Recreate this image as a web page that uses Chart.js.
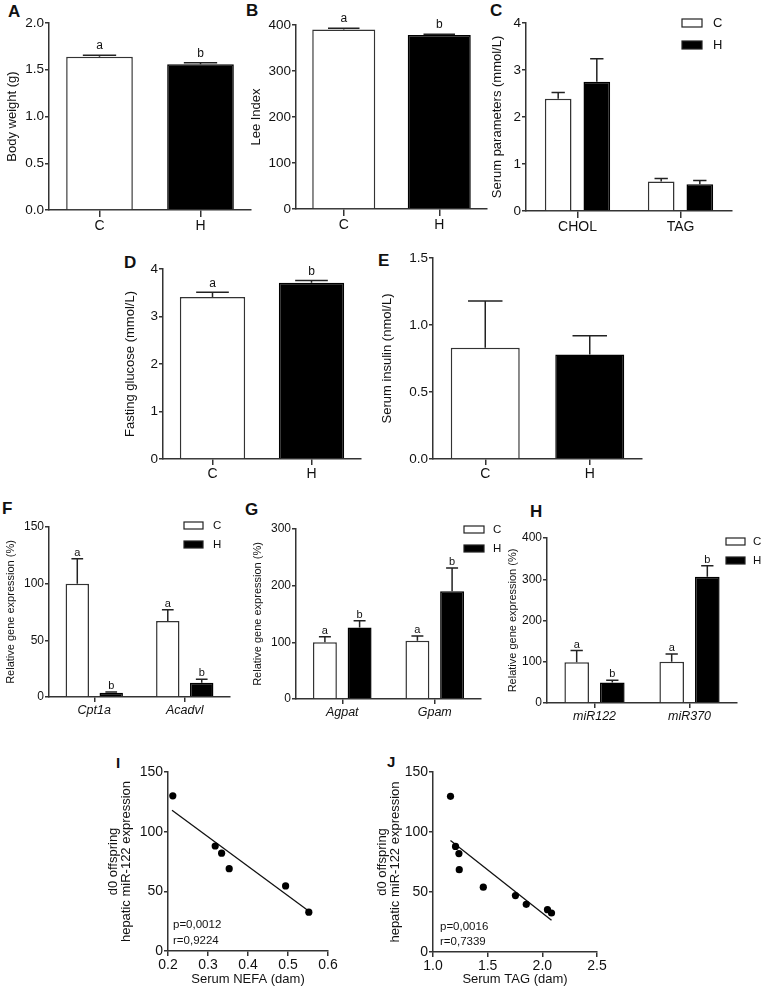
<!DOCTYPE html>
<html>
<head>
<meta charset="utf-8">
<script src="https://cdn.jsdelivr.net/npm/chart.js@4.4.1/dist/chart.umd.min.js"></script>
<style>
  body {
    margin: 0;
    width: 763px;
    height: 992px;
    position: relative;
    overflow: hidden;
    background: #fff;
    font-family: 'Liberation Sans', Arial, sans-serif;
  }
  canvas.panel { position: absolute; }
  .tag {
    position: absolute;
    font-weight: bold;
    font-size: 17px;
    line-height: 17px;
    color: #111;
  }
  .tag.small { font-size: 15px; line-height: 15px; }
</style>
</head>
<body>
<div class="tag" style="left:8px;top:3px">A</div>
<div class="tag" style="left:246px;top:2px">B</div>
<div class="tag" style="left:490px;top:2px">C</div>
<div class="tag" style="left:124px;top:254px">D</div>
<div class="tag" style="left:378px;top:252px">E</div>
<div class="tag" style="left:2px;top:500px">F</div>
<div class="tag" style="left:245px;top:501px">G</div>
<div class="tag" style="left:530px;top:503px">H</div>
<div class="tag small" style="left:116px;top:755px">I</div>
<div class="tag small" style="left:387px;top:754px">J</div>
<script>
// ---- data ----
const groups = ['C', 'H'];
const sigAB = ['a', 'b'];
const sigAA = ['a', 'a'];
const sigBB = ['b', 'b'];

// A
const bodyWeight = [1.64, 1.56];
const bodyWeightErr = [1.655, 1.575];
const yTicksA = ['0.0', '0.5', '1.0', '1.5', '2.0'];
// B
const leeIndex = [390, 378];
const leeIndexErr = [393, 380];
const yTicksB = ['0', '100', '200', '300', '400'];
// C
const serumCats = ['CHOL', 'TAG'];
const serumC = [2.39, 0.63];
const serumCErr = [2.52, 0.69];
const serumH = [2.75, 0.57];
const serumHErr = [3.24, 0.65];
const yTicksC = ['0', '1', '2', '3', '4'];
// D
const glucose = [3.41, 3.71];
const glucoseErr = [3.51, 3.76];
const yTicksD = ['0', '1', '2', '3', '4'];
// E
const insulin = [0.83, 0.78];
const insulinErr = [1.18, 0.92];
const yTicksE = ['0.0', '0.5', '1.0', '1.5'];
// F
const oxCats = ['Cpt1a', 'Acadvl'];
const oxC = [100, 67];
const oxCErr = [122, 77];
const oxH = [3.8, 12.6];
const oxHErr = [4.5, 15.6];
const yTicksF = ['0', '50', '100', '150'];
// G
const lipCats = ['Agpat', 'Gpam'];
const lipC = [100, 103];
const lipCErr = [110, 111];
const lipH = [126, 190];
const lipHErr = [138, 231];
const yTicksG = ['0', '100', '200', '300'];
// H
const mirCats = ['miR122', 'miR370'];
const mirC = [99, 100];
const mirCErr = [127, 119];
const mirH = [50, 306];
const mirHErr = [55, 333];
const yTicksH = ['0', '100', '200', '300', '400'];
// I
const nefaX = [0.212, 0.318, 0.334, 0.353, 0.494, 0.552];
const nefaY = [130, 88, 82, 69, 54.5, 32.5];
const nefaFitX = [0.21, 0.55];
const nefaFitY = [118, 34];
const xTicksI = ['0.2', '0.3', '0.4', '0.5', '0.6'];
const statsI = ['p=0,0012', 'r=0,9224'];
// J
const tagX = [1.16, 1.206, 1.237, 1.24, 1.46, 1.754, 1.853, 2.047, 2.084];
const tagY = [129.7, 88, 82, 68.6, 54, 47, 39.7, 35.3, 32.5];
const tagFitX = [1.16, 2.084];
const tagFitY = [93, 26.5];
const xTicksJ = ['1.0', '1.5', '2.0', '2.5'];
const statsJ = ['p=0,0016', 'r=0,7339'];
const yTicksIJ = ['0', '50', '100', '150'];

const FONT = "'Liberation Sans', Arial, sans-serif";
const AXIS = '#333';
const INK = '#111';

Chart.defaults.font.family = FONT;
Chart.defaults.color = INK;

function tickLabel(labels, v) {
  const t = labels.find(l => Math.abs(+l - v) < 1e-6);
  return t === undefined ? '' : t;
}

function makeCanvas(box) {
  const c = document.createElement('canvas');
  c.className = 'panel';
  c.width = box.w;
  c.height = box.h;
  c.style.left = box.x + 'px';
  c.style.top = box.y + 'px';
  c.style.width = box.w + 'px';
  c.style.height = box.h + 'px';
  document.body.append(c);
  return c;
}

// upper error bars + a/b letters
const errorBars = {
  id: 'errorBars',
  afterDatasetsDraw(chart, args, opts) {
    const { ctx } = chart;
    const y = chart.scales.y;
    chart.data.datasets.forEach((ds, i) => {
      if (!ds.err) return;
      chart.getDatasetMeta(i).data.forEach((bar, j) => {
        const top = y.getPixelForValue(ds.err[j]);
        const half = bar.width / 4;
        ctx.save();
        ctx.strokeStyle = '#222';
        ctx.lineWidth = 1.5;
        ctx.beginPath();
        ctx.moveTo(bar.x, bar.y);
        ctx.lineTo(bar.x, top);
        ctx.moveTo(bar.x - half, top);
        ctx.lineTo(bar.x + half, top);
        ctx.stroke();
        if (ds.sig) {
          ctx.fillStyle = INK;
          ctx.font = `${opts.size || 12}px ${FONT}`;
          ctx.textAlign = 'center';
          ctx.textBaseline = 'alphabetic';
          ctx.fillText(ds.sig[j], bar.x, top - (opts.gap || 4));
        }
        ctx.restore();
      });
    });
  }
};

// GraphPad-like legend: small box + label
const boxLegend = {
  id: 'boxLegend',
  afterDraw(chart, args, o) {
    if (!o || !o.show) return;
    const { ctx, chartArea } = chart;
    chart.data.datasets.forEach((ds, i) => {
      const x = chartArea.right + o.dx;
      const y = chartArea.top + o.dy + i * o.gap;
      ctx.save();
      ctx.fillStyle = ds.backgroundColor;
      ctx.strokeStyle = '#222';
      ctx.lineWidth = 1.2;
      ctx.fillRect(x, y, o.w, o.h);
      ctx.strokeRect(x, y, o.w, o.h);
      ctx.fillStyle = INK;
      ctx.font = `${o.size}px ${FONT}`;
      ctx.textAlign = 'left';
      ctx.textBaseline = 'middle';
      ctx.fillText(ds.label, x + o.w + o.textGap, y + o.h / 2 + 0.5);
      ctx.restore();
    });
  }
};

// p / r text in the lower-left of the scatter plots
const statText = {
  id: 'statText',
  afterDraw(chart, args, o) {
    if (!o || !o.lines) return;
    const { ctx, chartArea } = chart;
    ctx.save();
    ctx.fillStyle = INK;
    ctx.font = `${o.size}px ${FONT}`;
    ctx.textAlign = 'left';
    ctx.textBaseline = 'middle';
    o.lines.forEach((t, i) => {
      ctx.fillText(t, chartArea.left + o.dx, chartArea.bottom + o.dy + i * o.gap);
    });
    ctx.restore();
  }
};

function yScale(box, area, cfg) {
  const ticks = cfg.yTicks;
  return {
    min: +ticks[0],
    max: +ticks[ticks.length - 1],
    ticks: {
      stepSize: +ticks[1] - +ticks[0],
      color: INK,
      padding: 1,
      font: { size: cfg.tickSize },
      callback: v => tickLabel(ticks, v)
    },
    grid: { drawOnChartArea: false, tickLength: 4, color: AXIS, lineWidth: 1.5 },
    border: { color: AXIS, width: 1.5 },
    title: {
      display: true,
      text: cfg.yTitle,
      color: INK,
      padding: 0,
      font: { size: cfg.titleSize, lineHeight: cfg.titleLine || 1.2 }
    },
    afterFit: s => { s.width = area.l - box.x; }
  };
}

function barPanel(box, area, cfg) {
  const canvas = makeCanvas(box);
  return new Chart(canvas, {
    type: 'bar',
    data: { labels: cfg.labels, datasets: cfg.datasets },
    options: {
      responsive: false,
      animation: false,
      layout: {
        autoPadding: false,
        padding: { top: area.t - box.y, right: box.x + box.w - area.r, left: 0, bottom: 0 }
      },
      plugins: {
        legend: { display: false },
        tooltip: { enabled: false },
        errorBars: { size: cfg.sigSize, gap: cfg.sigGap },
        boxLegend: cfg.legend || { show: false }
      },
      scales: {
        x: {
          grid: { offset: false, drawOnChartArea: false, tickLength: cfg.xTick, color: AXIS, lineWidth: 1.5 },
          border: { color: AXIS, width: 1.5 },
          ticks: { color: INK, padding: 1, font: cfg.xFont },
          afterFit: s => { s.height = box.y + box.h - area.b; }
        },
        y: yScale(box, area, cfg)
      }
    },
    plugins: [errorBars, boxLegend]
  });
}

function singleSet(values, errs, sig) {
  return [{
    data: values,
    err: errs,
    sig: sig,
    backgroundColor: ['#fff', '#000'],
    borderColor: ['#333', '#000'],
    borderWidth: 1.5,
    barPercentage: 0.66,
    categoryPercentage: 1
  }];
}

function groupSets(c, cErr, h, hErr, sigC, sigH) {
  return [{
    label: groups[0],
    data: c,
    err: cErr,
    sig: sigC,
    backgroundColor: '#fff',
    borderColor: '#333',
    borderWidth: 1.5,
    barPercentage: 0.69,
    categoryPercentage: 0.75
  }, {
    label: groups[1],
    data: h,
    err: hErr,
    sig: sigH,
    backgroundColor: '#000',
    borderColor: '#000',
    borderWidth: 1.5,
    barPercentage: 0.69,
    categoryPercentage: 0.75
  }];
}

function scatterPanel(box, area, cfg) {
  const canvas = makeCanvas(box);
  const xt = cfg.xTicks;
  return new Chart(canvas, {
    type: 'scatter',
    data: {
      datasets: [{
        data: cfg.xs.map((x, i) => ({ x: x, y: cfg.ys[i] })),
        pointRadius: 3.6,
        pointBackgroundColor: '#000',
        pointBorderWidth: 0
      }, {
        type: 'line',
        data: cfg.fitX.map((x, i) => ({ x: x, y: cfg.fitY[i] })),
        borderColor: '#111',
        borderWidth: 1.3,
        pointRadius: 0,
        fill: false
      }]
    },
    options: {
      responsive: false,
      animation: false,
      layout: {
        autoPadding: false,
        padding: { top: area.t - box.y, right: box.x + box.w - area.r, left: 0, bottom: 0 }
      },
      plugins: {
        legend: { display: false },
        tooltip: { enabled: false },
        statText: { lines: cfg.stats, size: 11.5, dx: cfg.statDx, dy: cfg.statDy, gap: cfg.statGap }
      },
      scales: {
        x: {
          type: 'linear',
          min: +xt[0],
          max: +xt[xt.length - 1],
          ticks: {
            stepSize: +xt[1] - +xt[0],
            color: INK,
            padding: 1,
            font: { size: 14 },
            callback: v => tickLabel(xt, v)
          },
          grid: { drawOnChartArea: false, tickLength: 5, color: AXIS, lineWidth: 1.5 },
          border: { color: AXIS, width: 1.5 },
          title: { display: true, text: cfg.xTitle, color: INK, padding: 0, font: { size: 13 } },
          afterFit: s => { s.height = box.y + box.h - area.b; }
        },
        y: yScale(box, area, cfg)
      }
    },
    plugins: [statText]
  });
}

// A
barPanel({ x: 5, y: 0, w: 255, h: 240 }, { l: 49, t: 23, r: 251, b: 210 }, {
  labels: groups,
  datasets: singleSet(bodyWeight, bodyWeightErr, sigAB),
  yTicks: yTicksA, yTitle: 'Body weight (g)',
  tickSize: 13.5, titleSize: 13, xFont: { size: 14 }, xTick: 7, sigSize: 12, sigGap: 6
});

// B
barPanel({ x: 249, y: 0, w: 251, h: 240 }, { l: 296, t: 25, r: 487, b: 209 }, {
  labels: groups,
  datasets: singleSet(leeIndex, leeIndexErr, sigAB),
  yTicks: yTicksB, yTitle: 'Lee Index',
  tickSize: 13.5, titleSize: 13, xFont: { size: 14 }, xTick: 7, sigSize: 12, sigGap: 6
});

// C
barPanel({ x: 490, y: 0, w: 273, h: 240 }, { l: 526, t: 23, r: 732, b: 211 }, {
  labels: serumCats,
  datasets: groupSets(serumC, serumCErr, serumH, serumHErr, null, null),
  yTicks: yTicksC, yTitle: 'Serum parameters (mmol/L)',
  tickSize: 13.5, titleSize: 13, xFont: { size: 14 }, xTick: 7,
  legend: { show: true, dx: -50, dy: -4, gap: 22, w: 20, h: 8, textGap: 11, size: 13 }
});

// D
barPanel({ x: 123, y: 250, w: 250, h: 240 }, { l: 163, t: 269, r: 361, b: 459 }, {
  labels: groups,
  datasets: singleSet(glucose, glucoseErr, sigAB),
  yTicks: yTicksD, yTitle: 'Fasting glucose (mmol/L)',
  tickSize: 13.5, titleSize: 13, xFont: { size: 14 }, xTick: 6, sigSize: 12, sigGap: 5
});

// E
barPanel({ x: 380, y: 245, w: 270, h: 245 }, { l: 433, t: 258, r: 642, b: 459 }, {
  labels: groups,
  datasets: singleSet(insulin, insulinErr, null),
  yTicks: yTicksE, yTitle: 'Serum insulin (nmol/L)',
  tickSize: 13.5, titleSize: 13, xFont: { size: 14 }, xTick: 6
});

// F
barPanel({ x: 4, y: 505, w: 236, h: 225 }, { l: 49, t: 527, r: 230, b: 697 }, {
  labels: oxCats,
  datasets: groupSets(oxC, oxCErr, oxH, oxHErr, sigAA, sigBB),
  yTicks: yTicksF, yTitle: 'Relative gene expression (%)',
  tickSize: 12, titleSize: 11, xFont: { size: 12.5, style: 'italic' }, xTick: 5, sigSize: 11, sigGap: 3,
  legend: { show: true, dx: -46, dy: -5, gap: 19, w: 19, h: 7, textGap: 10, size: 11.5 }
});

// G
barPanel({ x: 251, y: 505, w: 262, h: 225 }, { l: 296, t: 529, r: 481, b: 699 }, {
  labels: lipCats,
  datasets: groupSets(lipC, lipCErr, lipH, lipHErr, sigAA, sigBB),
  yTicks: yTicksG, yTitle: 'Relative gene expression (%)',
  tickSize: 12, titleSize: 11, xFont: { size: 12.5, style: 'italic' }, xTick: 5, sigSize: 11, sigGap: 3,
  legend: { show: true, dx: -17, dy: -3, gap: 19, w: 20, h: 7, textGap: 9, size: 11.5 }
});

// H
barPanel({ x: 506, y: 505, w: 257, h: 225 }, { l: 547, t: 538, r: 737, b: 703 }, {
  labels: mirCats,
  datasets: groupSets(mirC, mirCErr, mirH, mirHErr, sigAA, sigBB),
  yTicks: yTicksH, yTitle: 'Relative gene expression (%)',
  tickSize: 12, titleSize: 11, xFont: { size: 12.5, style: 'italic' }, xTick: 5, sigSize: 11, sigGap: 3,
  legend: { show: true, dx: -11, dy: 0, gap: 19, w: 19, h: 7, textGap: 8, size: 11.5 }
});

// I
scatterPanel({ x: 107, y: 755, w: 233, h: 232 }, { l: 168, t: 772, r: 328, b: 951 }, {
  xs: nefaX, ys: nefaY, fitX: nefaFitX, fitY: nefaFitY,
  xTicks: xTicksI, xTitle: 'Serum NEFA (dam)',
  yTicks: yTicksIJ, yTitle: ['d0 offspring', 'hepatic miR-122 expression'],
  tickSize: 14, titleSize: 13, titleLine: 1.0,
  stats: statsI, statDx: 5, statDy: -26, statGap: 16
});

// J
scatterPanel({ x: 376, y: 755, w: 234, h: 232 }, { l: 433, t: 772, r: 597, b: 952 }, {
  xs: tagX, ys: tagY, fitX: tagFitX, fitY: tagFitY,
  xTicks: xTicksJ, xTitle: 'Serum TAG (dam)',
  yTicks: yTicksIJ, yTitle: ['d0 offspring', 'hepatic miR-122 expression'],
  tickSize: 14, titleSize: 13, titleLine: 1.0,
  stats: statsJ, statDx: 7, statDy: -25, statGap: 15
});
</script>
</body>
</html>
